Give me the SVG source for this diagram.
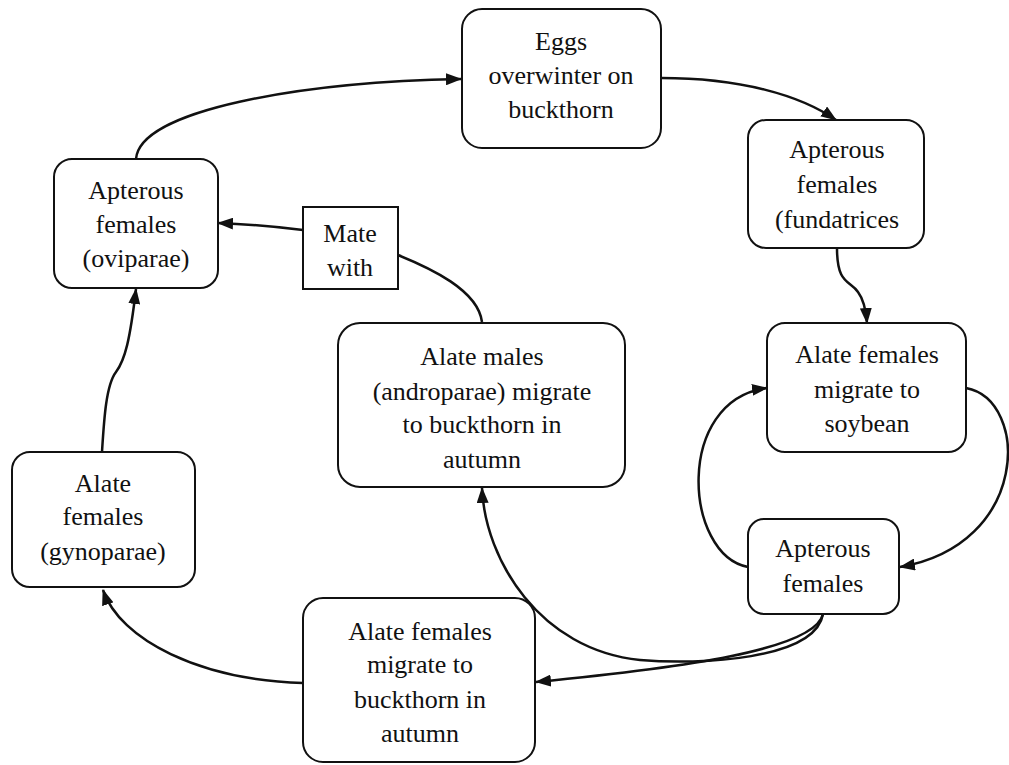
<svg xmlns="http://www.w3.org/2000/svg" width="1009" height="765" viewBox="0 0 1009 765">
<style>
.box{fill:#fff;stroke:#111;stroke-width:2}
.t{font-family:"Liberation Serif","Times New Roman",serif;font-size:26px;fill:#111;text-anchor:middle}
.c{fill:none;stroke:#111;stroke-width:2.5}
</style>
<defs>
<marker id="ah" markerUnits="userSpaceOnUse" markerWidth="16" markerHeight="12" refX="15" refY="6" orient="auto">
<path d="M0,0 L16,6 L0,12 z" fill="#111"/>
</marker>
</defs>
<rect width="1009" height="765" fill="#fff"/>
<g id="connectors">
<path class="c" d="M136,159 C140,110 300,82 461,79" marker-end="url(#ah)"/>
<path class="c" d="M661,78 C740,78 800,95 836,120" marker-end="url(#ah)"/>
<path class="c" d="M837,248 C837,285 850,280 858,292 C864,300 866,310 867,323" marker-end="url(#ah)"/>
<path class="c" d="M966,388 C1030,400 1030,545 900,567" marker-end="url(#ah)"/>
<path class="c" d="M748,567 C684,555 674,400 767,388" marker-end="url(#ah)"/>
<path class="c" d="M823,614 C815,660 700,665 640,660 C540,650 485,560 482,488" marker-end="url(#ah)"/>
<path class="c" d="M823,614 C815,650 680,668 536,682" marker-end="url(#ah)"/>
<path class="c" d="M482,322 C478,290 430,268 398,255"/>
<path class="c" d="M303,230 C270,226 245,224 218,223" marker-end="url(#ah)"/>
<path class="c" d="M102,452 C104,420 106,385 116,372 C125,360 130,340 136,289" marker-end="url(#ah)"/>
<path class="c" d="M303,683 C200,680 120,640 103,590" marker-end="url(#ah)"/>
</g>
<g id="eggs">
<rect class="box" x="462" y="9" width="199" height="139" rx="20"/>
<text class="t" x="561" y="50">Eggs</text>
<text class="t" x="561" y="84">overwinter on</text>
<text class="t" x="561" y="118">buckthorn</text>
</g>
<g id="fundatrices">
<rect class="box" x="748" y="120" width="176" height="128" rx="18"/>
<text class="t" x="837" y="158">Apterous</text>
<text class="t" x="837" y="193">females</text>
<text class="t" x="837" y="228">(fundatrices</text>
</g>
<g id="soybean">
<rect class="box" x="767" y="323" width="199" height="129" rx="18"/>
<text class="t" x="867" y="363">Alate females</text>
<text class="t" x="867" y="398">migrate to</text>
<text class="t" x="867" y="432">soybean</text>
</g>
<g id="apterous">
<rect class="box" x="748" y="519" width="151" height="95" rx="16"/>
<text class="t" x="823" y="557">Apterous</text>
<text class="t" x="823" y="592">females</text>
</g>
<g id="males">
<rect class="box" x="338" y="323" width="287" height="164" rx="22"/>
<text class="t" x="482" y="365">Alate males</text>
<text class="t" x="482" y="400">(androparae) migrate</text>
<text class="t" x="482" y="433">to buckthorn in</text>
<text class="t" x="482" y="468">autumn</text>
</g>
<g id="mate">
<rect class="box" x="303" y="207" width="95" height="82"/>
<text class="t" x="350" y="242">Mate</text>
<text class="t" x="350" y="276">with</text>
</g>
<g id="oviparae">
<rect class="box" x="54" y="159" width="164" height="129" rx="18"/>
<text class="t" x="136" y="199">Apterous</text>
<text class="t" x="136" y="233">females</text>
<text class="t" x="136" y="267">(oviparae)</text>
</g>
<g id="gynoparae">
<rect class="box" x="12" y="452" width="183" height="135" rx="18"/>
<text class="t" x="103" y="492">Alate</text>
<text class="t" x="103" y="525">females</text>
<text class="t" x="103" y="560">(gynoparae)</text>
</g>
<g id="autumn">
<rect class="box" x="303" y="598" width="232" height="164" rx="20"/>
<text class="t" x="420" y="640">Alate females</text>
<text class="t" x="420" y="673">migrate to</text>
<text class="t" x="420" y="708">buckthorn in</text>
<text class="t" x="420" y="742">autumn</text>
</g>
</svg>
